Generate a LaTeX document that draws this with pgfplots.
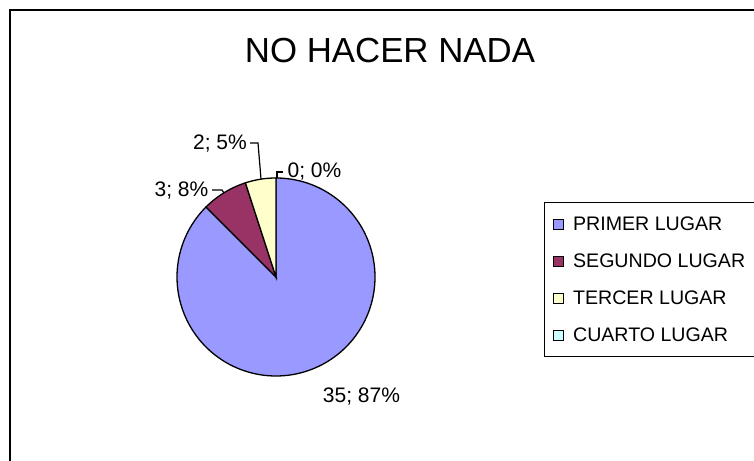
\documentclass[border=0pt]{standalone}
\usepackage{pgfplots}
\pgfplotsset{compat=1.18}
\usepackage{pgfplotstable}
\usepackage{fontspec}
\setmainfont{Liberation Sans}
\definecolor{cA}{HTML}{9999FF}
\definecolor{cB}{HTML}{993366}
\definecolor{cC}{HTML}{FFFFCC}
\definecolor{cD}{HTML}{CCFFFF}
\pgfplotstableread{
lugar valor
PRIMER 35
SEGUNDO 3
TERCER 2
CUARTO 0
}\datos
\begin{document}
\begin{tikzpicture}[x=1pt,y=1pt]
\useasboundingbox (0,0) rectangle (754,-460);
\draw[line width=2pt] (10,-470) -- (10,-10) -- (770,-10);
\pgfplotstablegetelem{0}{valor}\of\datos \let\vA\pgfplotsretval
\pgfplotstablegetelem{1}{valor}\of\datos \let\vB\pgfplotsretval
\pgfplotstablegetelem{2}{valor}\of\datos \let\vC\pgfplotsretval
\pgfplotstablegetelem{3}{valor}\of\datos \let\vD\pgfplotsretval
\pgfmathsetmacro\total{\vA+\vB+\vC+\vD}
\pgfmathsetmacro\aA{90}
\pgfmathsetmacro\aB{\aA-360*\vA/\total}
\pgfmathsetmacro\aC{\aB-360*\vB/\total}
\pgfmathsetmacro\aD{\aC-360*\vC/\total}
\begin{axis}[at={(276pt,-277pt)}, anchor=origin, x=99pt, y=99pt,
  xmin=-1, xmax=1, ymin=-1, ymax=1, hide axis, clip=false,
  legend style={at={(1.8535,0.879)}, anchor=north west, draw=black, line width=1.2pt,
    font=\fontsize{19.6}{23}\selectfont, row sep=17.8pt, inner xsep=8.5pt, inner ysep=12pt,
    /tikz/every odd column/.append style={column sep=7pt}},
  legend cell align=left,
  legend image code/.code={\draw[#1, line width=1pt] (0pt,-5pt) rectangle (10pt,5pt);},
  ]
\addplot[fill=cA, draw=black, line width=1.3pt, domain=\aB:\aA, samples=150] ({cos(x)},{sin(x)}) -- (axis cs:0,0) -- cycle;
\addlegendentry{PRIMER LUGAR}
\addplot[fill=cB, draw=black, line width=1.3pt, domain=\aC:\aB, samples=20] ({cos(x)},{sin(x)}) -- (axis cs:0,0) -- cycle;
\addlegendentry{SEGUNDO LUGAR}
\addplot[fill=cC, draw=black, line width=1.3pt, domain=\aD:\aC, samples=20] ({cos(x)},{sin(x)}) -- (axis cs:0,0) -- cycle;
\addlegendentry{TERCER LUGAR}
\addlegendimage{fill=cD, draw=black}
\addlegendentry{CUARTO LUGAR}
\end{axis}
\node[font=\fontsize{34.8}{40}\selectfont, inner sep=0pt] at (390,-51) {NO HACER NADA};
\begin{scope}[font=\fontsize{21}{24}\selectfont]
\node[inner sep=0pt] at (220,-144) {2; 5\%};
\node[inner sep=0pt] at (314.5,-172) {0; 0\%};
\node[inner sep=0pt] at (181.5,-191) {3; 8\%};
\node[inner sep=0pt] at (361.5,-397) {35; 87\%};
\end{scope}
\draw[line width=1.2pt] (250,-143) -- (258,-143) -- (261,-179);
\draw[line width=1.2pt] (277,-178) -- (277,-172) -- (283,-172);
\draw[line width=1.2pt] (212,-190) -- (222,-190) -- (224,-193);
\end{tikzpicture}
\end{document}
